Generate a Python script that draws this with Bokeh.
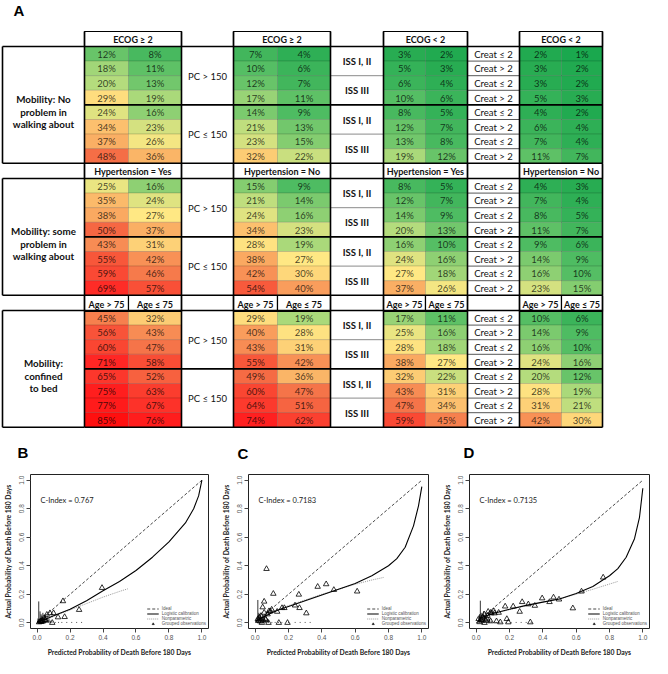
from bokeh.plotting import figure
from bokeh.models import (Range1d, ColumnDataSource, LinearColorMapper, Legend, LegendItem,
                          FixedTicker, PrintfTickFormatter)
from bokeh.layouts import column, row
from bokeh.embed import file_html
from bokeh.resources import INLINE
from bokeh.core.properties import value

# ---------------- Panel A data ----------------
mobility_labels = ["Mobility: No\nproblem in\nwalking about",
                   "Mobility: some\nproblem in\nwalking about",
                   "Mobility:\nconfined\nto bed"]
pc_labels = ["PC > 150", "PC ≤ 150"]
iss_labels = ["ISS I, II", "ISS III", "ISS I, II", "ISS III"]
creat_labels = ["Creat ≤ 2", "Creat > 2"] * 4
ecog_headers = ["ECOG ≥ 2", "ECOG ≥ 2", "ECOG < 2", "ECOG < 2"]
hyper_headers = ["Hypertension = Yes", "Hypertension = No", "Hypertension = Yes", "Hypertension = No"]
age_headers = ["Age > 75", "Age ≤ 75"] * 4

risk_no_problem = [
    [12, 8, 7, 4, 3, 2, 2, 1],
    [18, 11, 10, 6, 5, 3, 3, 2],
    [20, 13, 12, 7, 6, 4, 3, 2],
    [29, 19, 17, 11, 10, 6, 5, 3],
    [24, 16, 14, 9, 8, 5, 4, 2],
    [34, 23, 21, 13, 12, 7, 6, 4],
    [37, 26, 23, 15, 13, 8, 7, 4],
    [48, 36, 32, 22, 19, 12, 11, 7],
]
risk_some_problem = [
    [25, 16, 15, 9, 8, 5, 4, 3],
    [35, 24, 21, 14, 12, 7, 7, 4],
    [38, 27, 24, 16, 14, 9, 8, 5],
    [50, 37, 34, 23, 20, 13, 11, 7],
    [43, 31, 28, 19, 16, 10, 9, 6],
    [55, 42, 38, 27, 24, 16, 14, 9],
    [59, 46, 42, 30, 27, 18, 16, 10],
    [69, 57, 54, 40, 37, 26, 23, 15],
]
risk_confined = [
    [45, 32, 29, 19, 17, 11, 10, 6],
    [56, 43, 40, 28, 25, 16, 14, 9],
    [60, 47, 43, 31, 28, 18, 16, 10],
    [71, 58, 55, 42, 38, 27, 24, 16],
    [65, 52, 49, 36, 32, 22, 20, 12],
    [75, 63, 60, 47, 43, 31, 28, 19],
    [77, 67, 64, 51, 47, 34, 31, 21],
    [85, 76, 74, 62, 59, 45, 42, 30],
]

# ---------------- Panels B-D data ----------------
axis_ticks = [0.0, 0.2, 0.4, 0.6, 0.8, 1.0]
ideal_x = [0.0, 1.0]
ideal_y = [0.0, 1.0]
c_index = ["0.767", "0.7183", "0.7135"]
legend_labels = ["Ideal", "Logistic calibration", "Nonparametric", "Grouped observations"]

b_obs_x = [0.012, 0.018, 0.022, 0.026, 0.030, 0.035, 0.043, 0.050, 0.059, 0.078, 0.092, 0.100, 0.127, 0.157, 0.167, 0.255, 0.394]
b_obs_y = [0.004, 0.008, 0.012, 0.006, 0.015, 0.010, 0.034, 0.020, 0.057, 0.068, 0.000, 0.068, 0.039, 0.152, 0.041, 0.091, 0.245]
b_log_x = [0.0, 0.05, 0.1, 0.2, 0.3, 0.4, 0.5, 0.6, 0.7, 0.8, 0.9, 0.95, 0.98, 1.0]
b_log_y = [0.005, 0.025, 0.05, 0.095, 0.155, 0.225, 0.29, 0.367, 0.46, 0.567, 0.70, 0.80, 0.89, 1.0]
b_np_x = [0.0, 0.05, 0.1, 0.2, 0.3, 0.4, 0.5, 0.55]
b_np_y = [0.0, 0.02, 0.045, 0.09, 0.135, 0.18, 0.22, 0.238]
b_spike_x = [0.005, 0.010, 0.018, 0.024, 0.029, 0.035, 0.039, 0.045, 0.050, 0.056, 0.061, 0.067, 0.072, 0.080, 0.090,
             0.11, 0.13, 0.15, 0.18, 0.21, 0.24, 0.27]
b_spike_h = [0.03, 0.15, 0.08, 0.06, 0.05, 0.07, 0.04, 0.05, 0.06, 0.03, 0.05, 0.02, 0.03, 0.015, 0.01,
             0.006, 0.006, 0.006, 0.006, 0.006, 0.006, 0.006]

c_obs_x = [0.016, 0.020, 0.025, 0.030, 0.035, 0.040, 0.045, 0.054, 0.054, 0.060, 0.064, 0.068, 0.074, 0.080, 0.083,
           0.090, 0.099, 0.109, 0.132, 0.142, 0.161, 0.175, 0.194, 0.239, 0.262, 0.266, 0.307, 0.375, 0.426, 0.472, 0.612]
c_obs_y = [0.027, 0.015, 0.038, 0.010, 0.049, 0.000, 0.109, 0.149, 0.071, 0.030, 0.022, 0.378, 0.060, 0.000, 0.082,
           0.080, 0.093, 0.204, 0.078, 0.000, 0.104, 0.104, 0.000, 0.122, 0.198, 0.104, 0.067, 0.253, 0.271, 0.231, 0.220]
c_log_x = [0.0, 0.05, 0.1, 0.15, 0.2, 0.3, 0.4, 0.5, 0.6, 0.7, 0.8, 0.85, 0.9, 0.95, 0.98, 1.0]
c_log_y = [0.01, 0.04, 0.07, 0.095, 0.115, 0.155, 0.195, 0.235, 0.275, 0.33, 0.40, 0.45, 0.53, 0.68, 0.82, 0.955]
c_np_x = [0.0, 0.05, 0.1, 0.2, 0.3, 0.4, 0.5, 0.6, 0.7, 0.77]
c_np_y = [0.0, 0.045, 0.075, 0.12, 0.16, 0.2, 0.235, 0.27, 0.3, 0.318]
c_spike_x = [0.010, 0.016, 0.022, 0.028, 0.033, 0.039, 0.045, 0.050, 0.056, 0.062, 0.070, 0.080,
             0.10, 0.12, 0.14, 0.16, 0.20, 0.24, 0.27, 0.30, 0.33]
c_spike_h = [0.03, 0.16, 0.07, 0.05, 0.06, 0.04, 0.05, 0.03, 0.04, 0.02, 0.02, 0.015,
             0.006, 0.006, 0.006, 0.006, 0.006, 0.006, 0.006, 0.006, 0.006]

d_obs_x = [0.015, 0.020, 0.029, 0.039, 0.048, 0.050, 0.058, 0.065, 0.068, 0.072, 0.087, 0.087, 0.091, 0.106, 0.110,
           0.122, 0.135, 0.145, 0.174, 0.184, 0.193, 0.222, 0.261, 0.276, 0.313, 0.325, 0.352, 0.396, 0.440, 0.464,
           0.497, 0.580, 0.632, 0.762]
d_obs_y = [0.027, 0.005, 0.020, 0.038, 0.060, 0.000, 0.016, 0.030, 0.049, 0.078, 0.071, 0.011, 0.067, 0.082, 0.067,
           0.011, 0.071, 0.004, 0.115, 0.027, 0.004, 0.115, 0.078, 0.146, 0.130, 0.004, 0.120, 0.172, 0.146, 0.178,
           0.164, 0.102, 0.220, 0.318]
d_log_x = [0.02, 0.1, 0.2, 0.3, 0.4, 0.5, 0.6, 0.7, 0.76, 0.8, 0.85, 0.9, 0.95, 0.98, 1.0]
d_log_y = [0.03, 0.065, 0.095, 0.122, 0.145, 0.167, 0.205, 0.255, 0.30, 0.33, 0.38, 0.46, 0.59, 0.74, 0.944]
d_np_x = [0.02, 0.1, 0.2, 0.3, 0.4, 0.5, 0.6, 0.7, 0.85]
d_np_y = [0.03, 0.062, 0.092, 0.12, 0.145, 0.168, 0.2, 0.235, 0.29]
d_spike_x = [0.015, 0.020, 0.025, 0.030, 0.035, 0.040, 0.045, 0.050, 0.060, 0.070, 0.080, 0.090,
             0.12, 0.15, 0.18, 0.21, 0.24, 0.27, 0.30, 0.33]
d_spike_h = [0.04, 0.06, 0.155, 0.07, 0.05, 0.06, 0.08, 0.05, 0.04, 0.03, 0.02, 0.015,
             0.006, 0.006, 0.006, 0.006, 0.006, 0.006, 0.006, 0.006]

# ---------------- styling / layout constants ----------------
FONT = "Lato"
color_stops = [(0, (20, 165, 75)), (10, (85, 190, 100)), (20, (180, 220, 125)), (27, (255, 232, 132)),
               (37, (250, 175, 100)), (48, (245, 110, 70)), (60, (250, 70, 50)), (72, (255, 35, 35)),
               (85, (255, 15, 15))]


def _interp(v):
    for (v0, c0), (v1, c1) in zip(color_stops[:-1], color_stops[1:]):
        if v <= v1:
            t = (v - v0) / (v1 - v0)
            return tuple(int(round(a + (b - a) * t)) for a, b in zip(c0, c1))
    return color_stops[-1][1]


palette = ["#%02x%02x%02x" % _interp(85 * k / 255) for k in range(256)]
mapper = LinearColorMapper(palette=palette, low=0, high=85)

TW, TH = 652, 462
LABEL_COL = (2, 84)
PAIRS = [(84, 128, 181), (233, 277, 330), (383, 425, 467), (519, 561, 602)]
PC_COL = (181, 233)
ISS_COL = (330, 383)
CREAT_COL = (467, 519)
BLOCK_TOP = [31, 163, 295]
HEADER_H = 15
ROW_H = 14.6

pa = figure(width=TW, height=TH, x_range=Range1d(0, TW), y_range=Range1d(TH, 0),
            output_backend="svg", toolbar_location=None, min_border=0,
            x_axis_location=None, y_axis_location=None)
pa.grid.visible = False
pa.outline_line_color = None

blocks = [risk_no_problem, risk_some_problem, risk_confined]
cells = dict(left=[], right=[], top=[], bottom=[], val=[], txt=[], xc=[], yc=[])
for b, grid in enumerate(blocks):
    top0 = BLOCK_TOP[b] + HEADER_H
    for i, rvals in enumerate(grid):
        t = top0 + i * ROW_H
        for j, v in enumerate(rvals):
            edges = PAIRS[j // 2]
            l, r = edges[j % 2], edges[j % 2 + 1]
            cells["left"].append(l); cells["right"].append(r)
            cells["top"].append(t); cells["bottom"].append(t + ROW_H)
            cells["val"].append(v); cells["txt"].append(f"{v}%")
            cells["xc"].append((l + r) / 2); cells["yc"].append(t + ROW_H / 2 + 0.5)
csrc = ColumnDataSource(cells)
pa.quad(left="left", right="right", top="top", bottom="bottom", source=csrc,
        fill_color={"field": "val", "transform": mapper},
        line_color="black", line_alpha=0.13, line_width=1)
pa.text(x="xc", y="yc", text="txt", source=csrc, text_align="center", text_baseline="middle",
        text_font=value(FONT), text_font_size="9.5px", text_color="black", text_alpha=0.72)

# header cells
hdr = dict(left=[], right=[], top=[], bottom=[], txt=[], xc=[], yc=[])
for b, heads in enumerate([ecog_headers, hyper_headers]):
    t = BLOCK_TOP[b]
    for k, h in enumerate(heads):
        l, r = PAIRS[k][0], PAIRS[k][2]
        hdr["left"].append(l); hdr["right"].append(r); hdr["top"].append(t); hdr["bottom"].append(t + HEADER_H)
        hdr["txt"].append(h); hdr["xc"].append((l + r) / 2); hdr["yc"].append(t + HEADER_H / 2 + 0.5)
for j, h in enumerate(age_headers):
    edges = PAIRS[j // 2]
    l, r = edges[j % 2], edges[j % 2 + 1]
    t = BLOCK_TOP[2]
    hdr["left"].append(l); hdr["right"].append(r); hdr["top"].append(t); hdr["bottom"].append(t + HEADER_H + 1)
    hdr["txt"].append(h); hdr["xc"].append((l + r) / 2); hdr["yc"].append(t + HEADER_H / 2 + 1)
hsrc = ColumnDataSource(hdr)
pa.quad(left="left", right="right", top="top", bottom="bottom", source=hsrc,
        fill_color="white", line_color="black", line_width=1.2)
pa.text(x="xc", y="yc", text="txt", source=hsrc, text_align="center", text_baseline="middle",
        text_font=value(FONT), text_font_size="9px", text_font_style="bold", text_color="#111111")

# structural lines
thick = dict(x0=[], y0=[], x1=[], y1=[])
thin_iss = dict(x0=[], y0=[], x1=[], y1=[])
thin_creat = dict(x0=[], y0=[], x1=[], y1=[])
labels = dict(x=[], y=[], txt=[], style=[])
row_labels = dict(x=[], y=[], txt=[])
edges_x = [84, 181, 233, 330, 383, 467, 519, 602]


def seg(d, x0, y0, x1, y1):
    d["x0"].append(x0); d["y0"].append(y0); d["x1"].append(x1); d["y1"].append(y1)


for b in range(3):
    top0 = BLOCK_TOP[b] + HEADER_H
    bot = top0 + 8 * ROW_H
    for yy in (top0, top0 + 4 * ROW_H, bot):
        seg(thick, PAIRS[0][0], yy, PAIRS[-1][2], yy)
    for xx in edges_x:
        seg(thick, xx, BLOCK_TOP[b], xx, bot)
    # label box
    seg(thick, LABEL_COL[0], top0, LABEL_COL[1], top0)
    seg(thick, LABEL_COL[0], bot, LABEL_COL[1], bot)
    seg(thick, LABEL_COL[0], top0, LABEL_COL[0], bot)
    for rr in (2, 6):
        seg(thin_iss, ISS_COL[0], top0 + rr * ROW_H, ISS_COL[1], top0 + rr * ROW_H)
    for rr in (1, 2, 3, 5, 6, 7):
        seg(thin_creat, CREAT_COL[0], top0 + rr * ROW_H, CREAT_COL[1], top0 + rr * ROW_H)
    # text labels
    row_labels["x"].append((LABEL_COL[0] + LABEL_COL[1]) / 2); row_labels["y"].append(top0 + 4 * ROW_H + 7)
    row_labels["txt"].append(mobility_labels[b])
    for h in range(2):
        labels["x"].append((PC_COL[0] + PC_COL[1]) / 2); labels["y"].append(top0 + (4 * h + 2) * ROW_H + 0.5)
        labels["txt"].append(pc_labels[h]); labels["style"].append("normal")
    for g in range(4):
        labels["x"].append((ISS_COL[0] + ISS_COL[1]) / 2); labels["y"].append(top0 + (2 * g + 1) * ROW_H + 0.5)
        labels["txt"].append(iss_labels[g]); labels["style"].append("bold")
    for rr in range(8):
        labels["x"].append((CREAT_COL[0] + CREAT_COL[1]) / 2); labels["y"].append(top0 + (rr + 0.5) * ROW_H + 0.5)
        labels["txt"].append(creat_labels[rr]); labels["style"].append("normal")

pa.segment(x0="x0", y0="y0", x1="x1", y1="y1", source=ColumnDataSource(thin_iss), line_color="#8a8a8a", line_width=1)
pa.segment(x0="x0", y0="y0", x1="x1", y1="y1", source=ColumnDataSource(thin_creat), line_color="#444444", line_width=0.9)
pa.segment(x0="x0", y0="y0", x1="x1", y1="y1", source=ColumnDataSource(thick), line_color="black", line_width=1.6)
pa.text(x="x", y="y", text="txt", source=ColumnDataSource(labels), text_align="center", text_baseline="middle",
        text_font=value(FONT), text_font_size="9.5px", text_font_style="style", text_color="#111111")
pa.text(x="x", y="y", text="txt", source=ColumnDataSource(row_labels), text_align="center", text_baseline="middle",
        text_font=value(FONT), text_font_size="9.8px", text_font_style="bold", text_color="#111111",
        text_line_height=1.05)

# panel letters
letters = dict(x=[13, 17, 237, 463], y=[10, 452, 453, 452], txt=["A", "B", "C", "D"])
pa.text(x="x", y="y", text="txt", source=ColumnDataSource(letters), text_align="left", text_baseline="middle",
        text_font=value("Liberation Sans"), text_font_size="15px", text_font_style="bold", text_color="black")


# ---------------- calibration panels ----------------
def calib_panel(obs_x, obs_y, log_x, log_y, np_x, np_y, spike_x, spike_h, cidx, bl, br):
    p = figure(width=217, height=196, x_range=Range1d(-0.04, 1.04), y_range=Range1d(-0.04, 1.04),
               output_backend="svg", toolbar_location=None,
               min_border_left=bl, min_border_right=br, min_border_top=12, min_border_bottom=30)
    p.grid.visible = False
    p.outline_line_color = "#222222"
    p.outline_line_width = 1
    for ax in (p.xaxis[0], p.yaxis[0]):
        ax.ticker = FixedTicker(ticks=axis_ticks)
        ax.formatter = PrintfTickFormatter(format="%.1f")
        ax.axis_line_color = None
        ax.major_tick_out = 4
        ax.major_tick_in = 0
        ax.major_tick_line_color = "#444444"
        ax.minor_tick_line_color = None
        ax.major_label_text_font = "Liberation Sans"
        ax.major_label_text_font_size = "6.5px"
        ax.major_label_text_color = "#555555"
        ax.major_label_standoff = 2
        ax.axis_label_text_font = FONT
        ax.axis_label_text_font_size = "6.8px"
        ax.axis_label_text_font_style = "bold"
        ax.axis_label_text_color = "#222222"
        ax.axis_label_standoff = 5
    p.xaxis.axis_label = "Predicted Probability of Death Before 180 Days"
    p.yaxis.axis_label = "Actual Probability of Death Before 180 Days"
    p.yaxis.major_label_orientation = "vertical"

    n = len(spike_x)
    p.segment(x0=spike_x, y0=[0.0] * n, x1=spike_x, y1=spike_h, line_color="black", line_width=0.8)
    r_ideal = p.line(ideal_x, ideal_y, line_color="#333333", line_width=0.9, line_dash="3 2")
    r_np = p.line(np_x, np_y, line_color="#9a9a9a", line_width=1, line_dash="1 1")
    r_log = p.line(log_x, log_y, line_color="black", line_width=1.1)
    r_obs = p.scatter(obs_x, obs_y, marker="triangle", size=5.5, fill_color=None,
                      line_color="black", line_width=0.8)
    p.text(x=[0.02], y=[0.86], text=[f"C-Index = {cidx}"], text_align="left", text_baseline="middle",
           text_font=value(FONT), text_font_size="7.5px", text_color="#222222")
    legend = Legend(items=[LegendItem(label=legend_labels[0], renderers=[r_ideal]),
                           LegendItem(label=legend_labels[1], renderers=[r_log]),
                           LegendItem(label=legend_labels[2], renderers=[r_np]),
                           LegendItem(label=legend_labels[3], renderers=[r_obs])],
                    location="bottom_right", label_text_font="Liberation Sans", label_text_font_size="4.5px",
                    label_text_color="#555555", label_height=5, glyph_height=5, glyph_width=12,
                    label_standoff=3, spacing=0, padding=1, margin=2,
                    border_line_color=None, background_fill_alpha=0)
    p.add_layout(legend)
    return p


pb = calib_panel(b_obs_x, b_obs_y, b_log_x, b_log_y, b_np_x, b_np_y, b_spike_x, b_spike_h, c_index[0], 28, 9)
pc = calib_panel(c_obs_x, c_obs_y, c_log_x, c_log_y, c_np_x, c_np_y, c_spike_x, c_spike_h, c_index[1], 31, 6)
pd = calib_panel(d_obs_x, d_obs_y, d_log_x, d_log_y, d_np_x, d_np_y, d_spike_x, d_spike_h, c_index[2], 35, 2)

layout = column(pa, row(pb, pc, pd, spacing=0), spacing=0)
open("out.html", "w").write(file_html(layout, INLINE))
